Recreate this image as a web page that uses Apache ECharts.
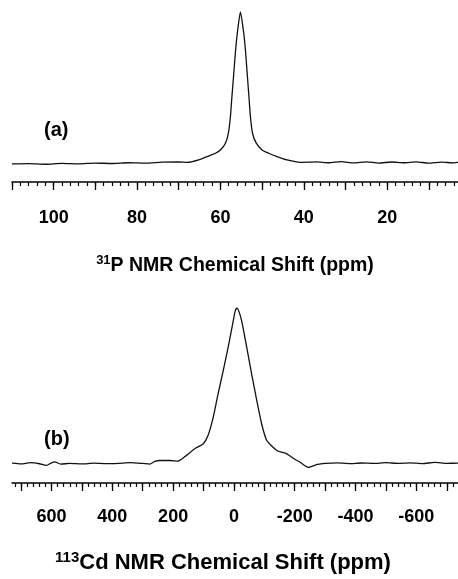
<!DOCTYPE html>
<html>
<head>
<meta charset="utf-8">
<style>
  html, body { margin: 0; padding: 0; background: #fff; }
  #nmrChart { width: 458px; height: 579px; }
</style>
</head>
<body>
<div id="nmrChart"></div>
<script src="https://cdn.jsdelivr.net/npm/echarts@6/dist/echarts.min.js"></script>
<script>
// (a) 31P spectrum, ppm / relative intensity (peak = 100)
const pShift = [110, 106, 102, 98, 94, 90, 86, 82, 78, 74, 70, 68.0, 65.2, 63.2, 61.2, 60.0, 58.8, 58.1, 57.6, 57.3, 56.98, 56.67, 56.35, 55.95, 55.2,
  54.4, 54.0, 53.7, 53.4, 53.1, 52.8, 52.3, 51.4, 50.0, 48.4, 46.4, 44.0, 40.8, 37, 34, 31, 28, 25, 22, 19, 16, 13, 10, 7, 4, 3];
const pIntensity = [-1.0, -0.8, -1.2, -0.6, -0.9, -0.4, -0.7, -0.2, -0.5, 0.2, 0.3, 0, 1.7, 3.9, 6.1, 8.3, 12.8, 19.4, 30.4, 41.5, 52.6, 63.7, 74.8, 85.8, 100,
  85.8, 74.8, 63.7, 52.6, 41.5, 30.4, 19.4, 12.8, 8.3, 6.1, 3.9, 1.7, 0.1, 0.4, -0.2, 0.5, -0.3, 0.4, -0.4, 0.3, -0.2, 0.4, -0.5, 0.2, -0.3, 0];
const pLabels = [100, 80, 60, 40, 20];
const pMajorTicks = [10, 20, 30, 40, 50, 60, 70, 80, 90, 100, 110];
const pMinorTicks = [4, 6, 8, 10, 12, 14, 16, 18, 20, 22, 24, 26, 28, 30, 32, 34, 36, 38, 40, 42, 44, 46, 48, 50, 52, 54, 56, 58,
  60, 62, 64, 66, 68, 70, 72, 74, 76, 78, 80, 82, 84, 86, 88, 90, 92, 94, 96, 98, 100, 102, 104, 106, 108, 110];

// (b) 113Cd spectrum
const cdShift = [730, 700, 670, 640, 617, 600, 589, 570, 540, 500, 460, 420, 380, 340, 300, 277, 260, 244, 211, 184, 156, 129, 101, 85, 68, 52, 35, 19, 2, -4, -10,
  -16, -25, -42, -58, -75, -91, -108, -141, -174, -200, -218, -235, -245, -260, -275, -300, -340, -380, -420, -460, -500, -540, -580, -620, -660, -700, -737];
const cdIntensity = [0, -0.5, 0.3, -0.4, -1.5, 0.2, 0.8, -0.6, -0.2, -0.5, 0, -0.3, -0.1, 0.3, -0.2, -0.6, 1.2, 1.7, 1.7, 1.3, 5, 9.3, 12.5, 18, 29.7, 44.8, 59.8, 74.8, 92, 98, 100,
  98, 92, 74.8, 57.7, 40.5, 25.4, 14.6, 8.2, 6, 2.5, 0.6, -1.8, -2.8, -1.8, -0.8, -0.2, 0.2, -0.3, 0.1, -0.2, 0.3, -0.1, 0.2, -0.3, 0.5, -0.1, 0];
const cdLabels = [600, 400, 200, 0, -200, -400, -600];
const cdMajorTicks = [-700, -600, -500, -400, -300, -200, -100, 0, 100, 200, 300, 400, 500, 600, 700];
const cdMinorTicks = [-720, -700, -680, -660, -640, -620, -600, -580, -560, -540, -520, -500, -480, -460, -440, -420, -400, -380, -360, -340, -320, -300,
  -280, -260, -240, -220, -200, -180, -160, -140, -120, -100, -80, -60, -40, -20, 0, 20, 40, 60, 80, 100, 120, 140, 160, 180, 200, 220, 240, 260, 280,
  300, 320, 340, 360, 380, 400, 420, 440, 460, 480, 500, 520, 540, 560, 580, 600, 620, 640, 660, 680, 700, 720];

const FONT = 'Liberation Sans, Arial, sans-serif';

// 主刻度轴（带刻度标签和轴名）
function majorAxis (grid, min, max, ticks, labels, margin, name, nameGap, namePad, supSize, txtSize) {
  return {
    gridIndex: grid,
    type: 'value',
    position: 'bottom',
    inverse: true,
    min: min,
    max: max,
    axisLine: { onZero: false, lineStyle: { color: '#000', width: 1.5 } },
    axisTick: { customValues: ticks, length: 8, lineStyle: { color: '#000', width: 1.3 } },
    axisLabel: {
      customValues: labels,
      margin: margin,
      fontSize: 18,
      fontWeight: 'bold',
      fontFamily: FONT,
      color: '#000'
    },
    splitLine: { show: false },
    name: name,
    nameLocation: 'middle',
    nameGap: nameGap,
    nameTextStyle: {
      color: '#000',
      fontFamily: FONT,
      fontWeight: 'bold',
      padding: namePad,
      rich: {
        sup: { fontSize: supSize, fontWeight: 'bold', fontFamily: FONT, color: '#000', verticalAlign: 'top' },
        txt: { fontSize: txtSize, fontWeight: 'bold', fontFamily: FONT, color: '#000', lineHeight: txtSize + 4 }
      }
    }
  }
}

// 次刻度轴（只画短刻度）
function minorAxis (grid, min, max, ticks) {
  return {
    gridIndex: grid,
    type: 'value',
    position: 'bottom',
    inverse: true,
    min: min,
    max: max,
    axisLine: { onZero: false, show: false },
    axisTick: { customValues: ticks, length: 4, lineStyle: { color: '#000', width: 1.2 } },
    axisLabel: { show: false },
    splitLine: { show: false }
  }
}

function pairs (xs, ys) {
  return xs.map((x, i) => [x, ys[i]]);
}

const myChart = echarts.init(document.getElementById('nmrChart'), null, { renderer: 'canvas' });
const option = {
  animation: false,
  backgroundColor: '#fff',
  title: [
    { text: '(a)', left: 44, top: 120, padding: 0, textStyle: { fontSize: 20, fontWeight: 'bold', fontFamily: FONT, color: '#000' } },
    { text: '(b)', left: 44, top: 429, padding: 0, textStyle: { fontSize: 20, fontWeight: 'bold', fontFamily: FONT, color: '#000' } }
  ],
  grid: [
    { left: 12, right: 0, top: 12, height: 170 },
    { left: 12, right: 0, top: 308, height: 175 }
  ],
  xAxis: [
    majorAxis(0, 3, 110, pMajorTicks, pLabels, 27, '{sup|31}{txt|P NMR Chemical Shift (ppm)}', 72, [0, 0, 0, 0], 13, 19.5),
    minorAxis(0, 3, 110, pMinorTicks),
    majorAxis(1, -737, 730, cdMajorTicks, cdLabels, 25, '{sup|113}{txt|Cd NMR Chemical Shift (ppm)}', 67, [0, 24, 0, 0], 15, 22),
    minorAxis(1, -737, 730, cdMinorTicks)
  ],
  yAxis: [
    { gridIndex: 0, type: 'value', min: -13, max: 100, show: false },
    { gridIndex: 1, type: 'value', min: -12.8, max: 100, show: false }
  ],
  series: [
    {
      type: 'line',
      xAxisIndex: 0,
      yAxisIndex: 0,
      data: pairs(pShift, pIntensity),
      symbol: 'none',
      smooth: 0.2,
      lineStyle: { color: '#111', width: 1.3 }
    },
    {
      type: 'line',
      xAxisIndex: 2,
      yAxisIndex: 1,
      data: pairs(cdShift, cdIntensity),
      symbol: 'none',
      smooth: 0.2,
      lineStyle: { color: '#111', width: 1.3 }
    }
  ]
};
myChart.setOption(option);
</script>
</body>
</html>
